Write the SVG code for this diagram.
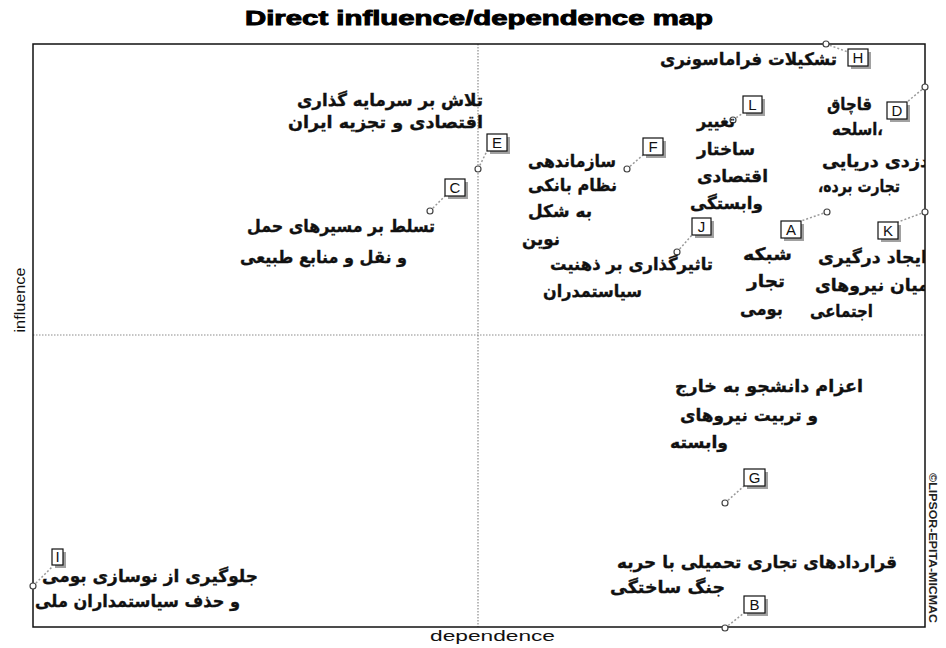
<svg xmlns="http://www.w3.org/2000/svg" width="946" height="648" viewBox="0 0 946 648">
<style>
.title{font-family:"Liberation Sans",Arial,sans-serif;font-weight:bold;font-size:20px;fill:#000;stroke:#000;stroke-width:0.9}
.axis{font-family:"Liberation Sans",Arial,sans-serif;font-size:14px;fill:#111}
.copy{font-family:"Liberation Sans",Arial,sans-serif;font-weight:bold;font-size:11px;fill:#222}
.lbl{font-family:"DejaVu Sans","Noto Sans",sans-serif;font-weight:bold;font-size:17px;fill:#111;stroke:#111;stroke-width:0.35;text-anchor:end}
.code{font-family:"Liberation Sans",Arial,sans-serif;font-size:15px;fill:#111;text-anchor:middle}
.box{fill:#fff;stroke:#111;stroke-width:1.2}
.shadow{fill:#8a8a8a;opacity:0.8}
.pt{fill:#fff;stroke:#444;stroke-width:1.2}
.conn{stroke:#9a9a9a;stroke-width:1.5;stroke-dasharray:2 2;fill:none}
.grid{stroke:#8c8c8c;stroke-width:1.2;stroke-dasharray:1.5 1.5;fill:none}
</style>
<defs>
<clipPath id="frameClip"><rect x="33" y="44" width="892" height="583"/></clipPath>
</defs>
<rect x="0" y="0" width="946" height="648" fill="#fff"/>
<text class="title" x="245" y="25" textLength="468" lengthAdjust="spacingAndGlyphs">Direct influence/dependence map</text>
<g id="frame">
<line class="grid" x1="478" y1="44" x2="478" y2="627"/>
<line class="grid" x1="33" y1="335" x2="925" y2="335"/>
<rect x="33" y="44" width="892" height="583" fill="none" stroke="#111" stroke-width="1.5"/>
</g>
<text class="axis" transform="translate(25,300) rotate(-90)" text-anchor="middle" textLength="65" lengthAdjust="spacingAndGlyphs">influence</text>
<text class="axis" x="430" y="641" textLength="125" lengthAdjust="spacingAndGlyphs">dependence</text>
<text class="copy" transform="translate(929,473) rotate(90)" textLength="150" lengthAdjust="spacingAndGlyphs">©LIPSOR-EPITA-MICMAC</text>

<g id="connectors">
<line class="conn" x1="826" y1="44" x2="848" y2="52"/>
<line class="conn" x1="925" y1="87" x2="907" y2="102"/>
<line class="conn" x1="733" y1="120" x2="743" y2="113"/>
<line class="conn" x1="925" y1="212" x2="898" y2="222"/>
<line class="conn" x1="827" y1="212" x2="801" y2="221"/>
<line class="conn" x1="677" y1="252" x2="692" y2="235"/>
<line class="conn" x1="627" y1="169" x2="643" y2="155"/>
<line class="conn" x1="478" y1="169" x2="487" y2="151"/>
<line class="conn" x1="430" y1="211" x2="445" y2="196"/>
<line class="conn" x1="725" y1="503" x2="744" y2="486"/>
<line class="conn" x1="725" y1="628" x2="744" y2="613"/>
<line class="conn" x1="33" y1="586" x2="52" y2="567"/>
</g>

<g id="node-H">
<circle class="pt" cx="826" cy="44" r="3"/>
<rect class="shadow" x="851" y="52" width="20" height="17"/>
<rect class="box" x="848" y="49" width="20" height="17"/>
<text class="code" x="858" y="63">H</text>
<text class="lbl" x="837" y="65" textLength="177" lengthAdjust="spacingAndGlyphs">تشکیلات فراماسونری</text>
</g>

<g id="node-D">
<circle class="pt" cx="925" cy="87" r="3"/>
<rect class="shadow" x="890" y="105" width="20" height="17"/>
<rect class="box" x="887" y="102" width="20" height="17"/>
<text class="code" x="897" y="116">D</text>
<text class="lbl" x="872" y="110" textLength="45" lengthAdjust="spacingAndGlyphs">قاچاق</text>
<text class="lbl" x="883" y="135" textLength="51" lengthAdjust="spacingAndGlyphs">&#x200E;اسلحه،&#x200E;</text>
<g clip-path="url(#frameClip)">
<text class="lbl" x="929" y="167" textLength="107" lengthAdjust="spacingAndGlyphs">دزدی دریایی</text>
</g>
<text class="lbl" x="900" y="192" textLength="82" lengthAdjust="spacingAndGlyphs">&#x200E;،تجارت برده</text>
</g>

<g id="node-L">
<circle class="pt" cx="733" cy="120" r="3"/>
<rect class="shadow" x="746" y="99" width="19" height="17"/>
<rect class="box" x="743" y="96" width="19" height="17"/>
<text class="code" x="752.5" y="110">L</text>
<text class="lbl" x="735" y="127" textLength="38" lengthAdjust="spacingAndGlyphs">تغییر</text>
<text class="lbl" x="755" y="155" textLength="58" lengthAdjust="spacingAndGlyphs">ساختار</text>
<text class="lbl" x="768" y="182" textLength="71" lengthAdjust="spacingAndGlyphs">اقتصادی</text>
<text class="lbl" x="763" y="209" textLength="73" lengthAdjust="spacingAndGlyphs">وابستگی</text>
</g>

<g id="node-K">
<circle class="pt" cx="925" cy="212" r="3"/>
<rect class="shadow" x="881" y="225" width="20" height="17"/>
<rect class="box" x="878" y="222" width="20" height="17"/>
<text class="code" x="888" y="236">K</text>
<g clip-path="url(#frameClip)">
<text class="lbl" x="927" y="263" textLength="109" lengthAdjust="spacingAndGlyphs">ایجاد درگیری</text>
<text class="lbl" x="929" y="291" textLength="114" lengthAdjust="spacingAndGlyphs">میان نیروهای</text>
</g>
<text class="lbl" x="873" y="317" textLength="63" lengthAdjust="spacingAndGlyphs">اجتماعی</text>
</g>

<g id="node-A">
<circle class="pt" cx="827" cy="212" r="3"/>
<rect class="shadow" x="784" y="224" width="20" height="17"/>
<rect class="box" x="781" y="221" width="20" height="17"/>
<text class="code" x="791" y="235">A</text>
<text class="lbl" x="792" y="260" textLength="49" lengthAdjust="spacingAndGlyphs">شبکه</text>
<text class="lbl" x="785" y="287" textLength="38" lengthAdjust="spacingAndGlyphs">تجار</text>
<text class="lbl" x="783" y="315" textLength="43" lengthAdjust="spacingAndGlyphs">بومی</text>
</g>

<g id="node-J">
<circle class="pt" cx="677" cy="252" r="3"/>
<rect class="shadow" x="695" y="221" width="19" height="17"/>
<rect class="box" x="692" y="218" width="19" height="17"/>
<text class="code" x="701.5" y="232">J</text>
<text class="lbl" x="713" y="270" textLength="163" lengthAdjust="spacingAndGlyphs">تاثیرگذاری بر ذهنیت</text>
<text class="lbl" x="642" y="297" textLength="99" lengthAdjust="spacingAndGlyphs">سیاستمدران</text>
</g>

<g id="node-F">
<circle class="pt" cx="627" cy="169" r="3"/>
<rect class="shadow" x="646" y="141" width="20" height="17"/>
<rect class="box" x="643" y="138" width="20" height="17"/>
<text class="code" x="653" y="152">F</text>
<text class="lbl" x="616" y="167" textLength="88" lengthAdjust="spacingAndGlyphs">سازماندهی</text>
<text class="lbl" x="617" y="191" textLength="89" lengthAdjust="spacingAndGlyphs">نظام بانکی</text>
<text class="lbl" x="592" y="217" textLength="64" lengthAdjust="spacingAndGlyphs">به شکل</text>
<text class="lbl" x="560" y="245" textLength="38" lengthAdjust="spacingAndGlyphs">نوین</text>
</g>

<g id="node-E">
<circle class="pt" cx="478" cy="169" r="3"/>
<rect class="shadow" x="490" y="137" width="20" height="17"/>
<rect class="box" x="487" y="134" width="20" height="17"/>
<text class="code" x="497" y="148">E</text>
<text class="lbl" x="483" y="106" textLength="186" lengthAdjust="spacingAndGlyphs">تلاش بر سرمایه گذاری</text>
<text class="lbl" x="483" y="128" textLength="195" lengthAdjust="spacingAndGlyphs">اقتصادی و تجزیه ایران</text>
</g>

<g id="node-C">
<circle class="pt" cx="430" cy="211" r="3"/>
<rect class="shadow" x="448" y="182" width="20" height="17"/>
<rect class="box" x="445" y="179" width="20" height="17"/>
<text class="code" x="455" y="193">C</text>
<text class="lbl" x="435" y="232" textLength="188" lengthAdjust="spacingAndGlyphs">تسلط بر مسیرهای حمل</text>
<text class="lbl" x="407" y="263" textLength="167" lengthAdjust="spacingAndGlyphs">و نقل و منابع طبیعی</text>
</g>

<g id="node-G">
<circle class="pt" cx="725" cy="503" r="3"/>
<rect class="shadow" x="747" y="472" width="21" height="17"/>
<rect class="box" x="744" y="469" width="21" height="17"/>
<text class="code" x="754.5" y="483">G</text>
<text class="lbl" x="863" y="392" textLength="188" lengthAdjust="spacingAndGlyphs">اعزام دانشجو به خارج</text>
<text class="lbl" x="818" y="421" textLength="138" lengthAdjust="spacingAndGlyphs">و تربیت نیروهای</text>
<text class="lbl" x="728" y="448" textLength="58" lengthAdjust="spacingAndGlyphs">وابسته</text>
</g>

<g id="node-B">
<circle class="pt" cx="725" cy="628" r="3"/>
<rect class="shadow" x="747" y="599" width="21" height="17"/>
<rect class="box" x="744" y="596" width="21" height="17"/>
<text class="code" x="754.5" y="610">B</text>
<text class="lbl" x="897" y="568" textLength="280" lengthAdjust="spacingAndGlyphs">قراردادهای تجاری تحمیلی با حربه</text>
<text class="lbl" x="725" y="593" textLength="115" lengthAdjust="spacingAndGlyphs">جنگ ساختگی</text>
</g>

<g id="node-I">
<circle class="pt" cx="33" cy="586" r="3"/>
<rect class="shadow" x="55" y="552" width="11" height="16"/>
<rect class="box" x="52" y="549" width="11" height="16"/>
<text class="code" x="57.5" y="562">I</text>
<text class="lbl" x="258" y="582" textLength="216" lengthAdjust="spacingAndGlyphs">جلوگیری از نوسازی بومی</text>
<text class="lbl" x="240" y="607" textLength="205" lengthAdjust="spacingAndGlyphs">و حذف سیاستمداران ملی</text>
</g>
</svg>
